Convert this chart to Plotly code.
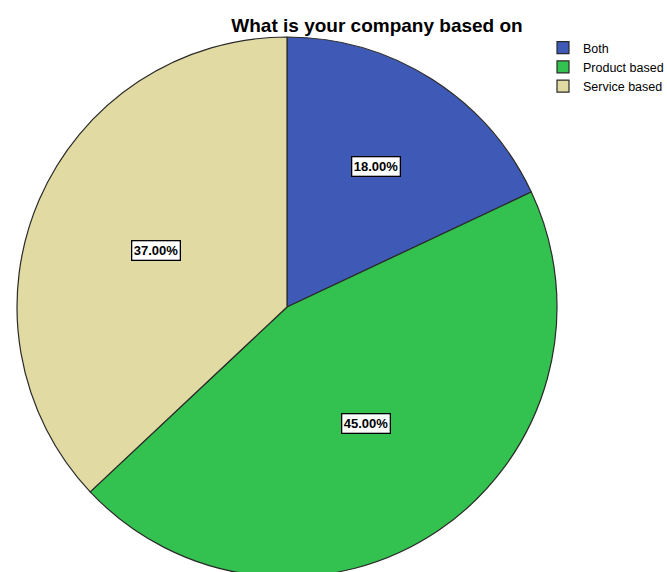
import math
import plotly.graph_objects as go

# Share of respondents by company type
categories = ["Both", "Product based", "Service based"]
percentages = [18.00, 45.00, 37.00]
slice_colors = ["#3E59B6", "#33C24F", "#E1DAA2"]

# radial placement of the value boxes (fraction of the radius)
label_radius = [0.615, 0.52, 0.53]

W, H = 667, 590
fig = go.Figure(
    go.Pie(
        labels=categories,
        values=percentages,
        sort=False,
        direction="clockwise",
        rotation=0,
        textinfo="none",
        hoverinfo="label+percent",
        marker=dict(colors=slice_colors, line=dict(color="#2a2a2a", width=1.2)),
    )
)

# value boxes placed at each slice's mid-angle
total = sum(percentages)
cum = 0.0
for v, rf in zip(percentages, label_radius):
    mid = (cum + v / 2) / total * 2 * math.pi
    cum += v
    fig.add_annotation(
        x=0.5 + 0.5 * rf * math.sin(mid),
        y=0.5 + 0.5 * rf * math.cos(mid),
        xref="paper", yref="paper",
        xanchor="center", yanchor="middle",
        text=f"<b>{v:.2f}%</b>",
        showarrow=False,
        font=dict(family="Liberation Sans, Arial", size=13, color="black"),
        bgcolor="white",
        bordercolor="black",
        borderwidth=1.3,
        borderpad=1.5,
    )

fig.update_layout(
    width=W,
    height=H,
    margin=dict(l=17, r=110, t=37, b=13, autoexpand=False),
    paper_bgcolor="white",
    plot_bgcolor="white",
    font=dict(family="Liberation Sans, Arial", color="black"),
    title=dict(
        text="<b>What is your company based on</b>",
        font=dict(size=19, family="Liberation Sans, Arial", color="black"),
        x=(377 - 17) / 540, xref="paper", xanchor="center",
        y=1 - 25 / H, yref="container", yanchor="middle",
    ),
    legend=dict(
        xref="container", yref="container",
        x=543 / W, xanchor="left",
        y=1 - 33 / H, yanchor="top",
        font=dict(size=12.5, family="Liberation Sans, Arial", color="black"),
        bgcolor="rgba(0,0,0,0)",
        itemwidth=30,
        tracegroupgap=0,
    ),
)

fig.write_html("out.html")
